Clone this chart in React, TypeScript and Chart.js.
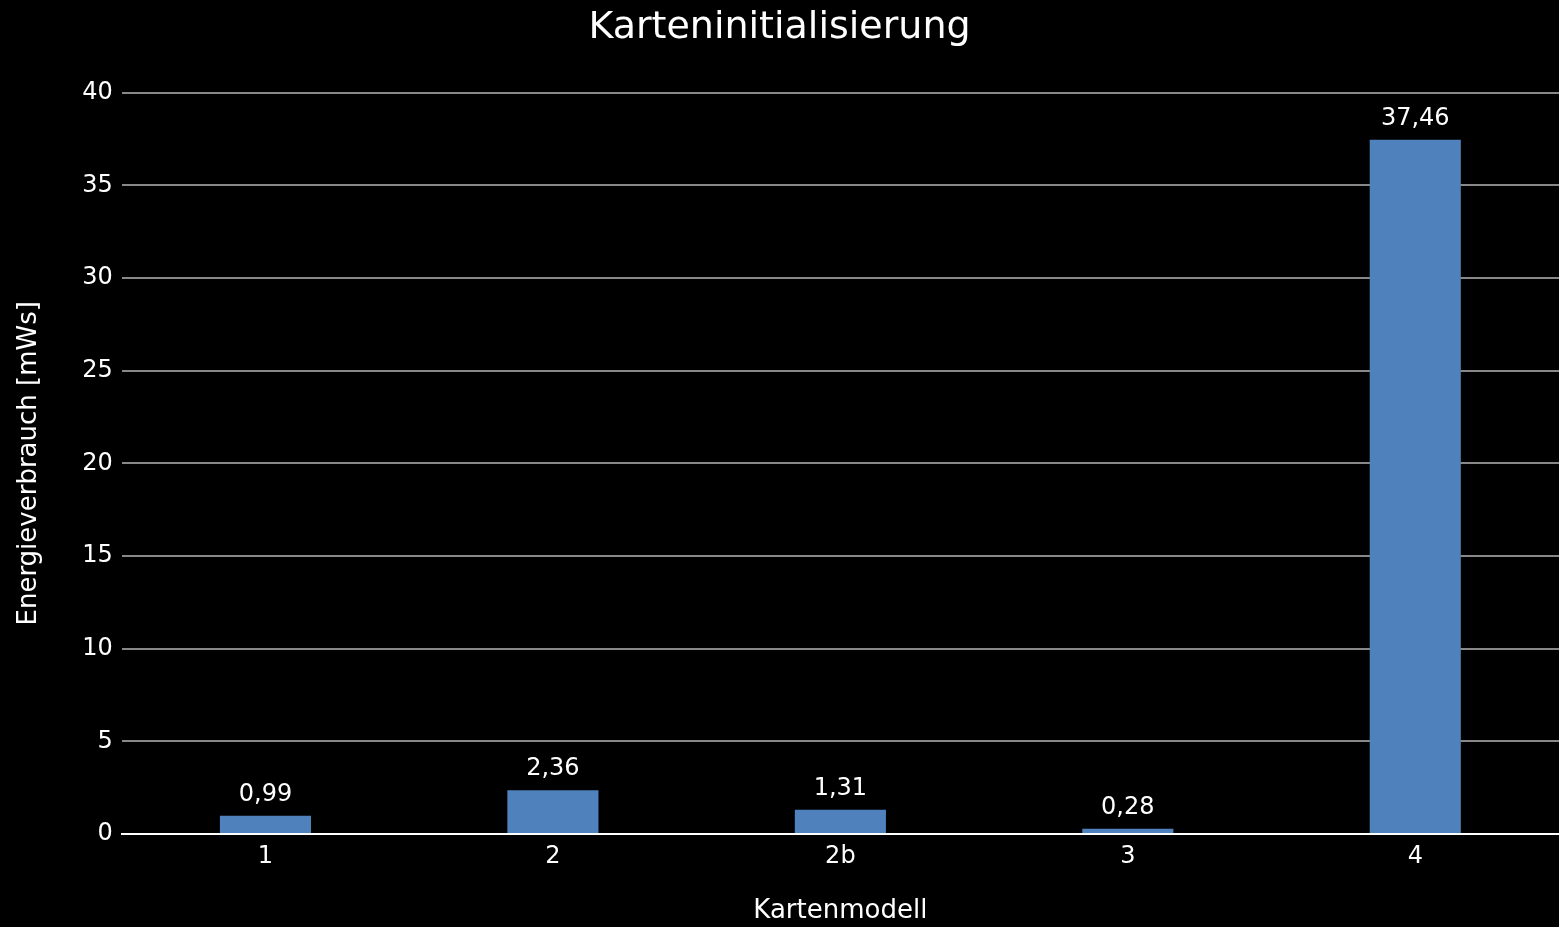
import React, { useEffect, useRef } from "react";
import { Chart, registerables } from "chart.js";

Chart.register(...registerables);

const categories = ["1", "2", "2b", "3", "4"];
const energyValues = [0.99, 2.36, 1.31, 0.28, 37.46];
const valueLabels = ["0,99", "2,36", "1,31", "0,28", "37,46"];

const FONT = "'DejaVu Sans', sans-serif";

const labelPlugin = {
  id: "valueLabels",
  afterDatasetsDraw(chart: any) {
    const ctx = chart.ctx;
    const meta = chart.getDatasetMeta(0);
    ctx.save();
    ctx.fillStyle = "#ffffff";
    ctx.font = `24px ${FONT}`;
    ctx.textAlign = "center";
    ctx.textBaseline = "bottom";
    meta.data.forEach((bar: any, i: number) => {
      ctx.fillText(valueLabels[i], bar.x, bar.y - 9);
    });
    ctx.restore();
  },
};

export default function App() {
  const ref = useRef<HTMLCanvasElement>(null);
  useEffect(() => {
    document.body.style.margin = "0";
    document.body.style.background = "#000";
    const chart = new Chart(ref.current!, {
      type: "bar",
      data: {
        labels: categories,
        datasets: [
          {
            data: energyValues,
            backgroundColor: "#4f81bd",
            barPercentage: 0.317,
            categoryPercentage: 1,
          },
        ],
      },
      options: {
        animation: false,
        responsive: false,
        layout: { padding: { top: 0, right: 0, bottom: 0, left: 0 } },
        plugins: {
          legend: { display: false },
          tooltip: { enabled: false },
          title: {
            display: true,
            text: "Karteninitialisierung",
            color: "#ffffff",
            font: { family: FONT, size: 38, weight: "normal" },
            padding: { top: 5, bottom: 42 },
          },
        },
        scales: {
          x: {
            grid: { display: false, drawTicks: false },
            border: { display: true, color: "#ffffff", width: 2 },
            ticks: {
              color: "#ffffff",
              font: { family: FONT, size: 24 },
              padding: 8,
            },
            title: {
              display: true,
              text: "Kartenmodell",
              color: "#ffffff",
              font: { family: FONT, size: 26 },
              padding: { top: 17, bottom: 0 },
            },
          },
          y: {
            min: 0,
            max: 40,
            ticks: {
              stepSize: 5,
              color: "#ffffff",
              font: { family: FONT, size: 24 },
              padding: 9,
            },
            grid: {
              color: "#888888",
              lineWidth: 2,
              drawTicks: false,
            },
            border: { display: false },
            title: {
              display: true,
              text: "Energieverbrauch [mWs]",
              color: "#ffffff",
              font: { family: FONT, size: 26 },
              padding: { top: 14, bottom: 28 },
            },
          },
        },
      },
      plugins: [labelPlugin],
    });
    return () => chart.destroy();
  }, []);
  return (
    <div style={{ width: 1559, height: 927, background: "#000" }}>
      <canvas ref={ref} width={1559} height={927} style={{ display: "block" }} />
    </div>
  );
}
